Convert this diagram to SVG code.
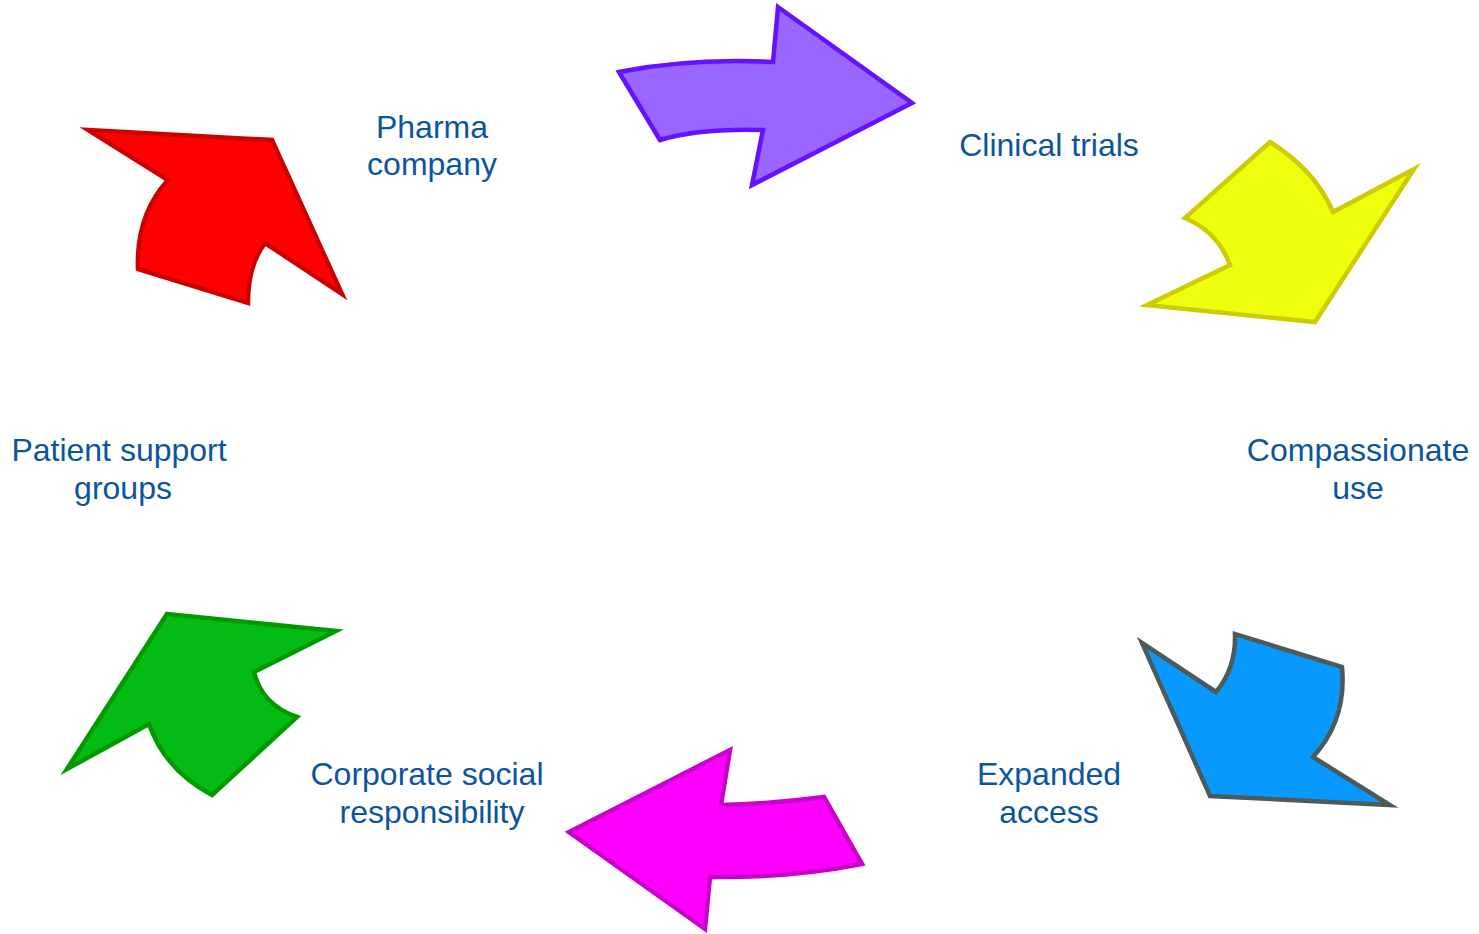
<svg xmlns="http://www.w3.org/2000/svg" width="1479" height="934" viewBox="0 0 1479 934">
<style>
.lbl{font-family:"Liberation Sans",Arial,sans-serif;font-size:32px;fill:#0b55a0;text-anchor:middle}
.arr{stroke-width:4.5;stroke-linejoin:miter;stroke-miterlimit:10}
</style>
<rect width="1479" height="934" fill="#ffffff"/>
<g id="connectors">
<path id="arrow-purple" class="arr" fill="#9966ff" stroke="#6611ff" d="M619,72 Q690,58 773,62 L778,7 L912,103 L752,185 L763,130 Q700,128 660,140 Z"/>
<path id="arrow-yellow" class="arr" fill="#eeff0e" stroke="#cccc00" d="M1270,142 Q1315,170 1333,212 L1414,169 L1315,322 L1147,305 L1230,265 Q1218,232 1185,218 Z"/>
<path id="arrow-blue" class="arr" fill="#0899ff" stroke="#4d5a5a" d="M1142,643 L1216,692 Q1236,668 1235,634 L1342,667 Q1347,720 1313,757 L1390,805 L1210,796 Z"/>
<path id="arrow-magenta" class="arr" fill="#ff00ff" stroke="#cc00cc" d="M730,750 L721,805 Q770,804 824,797 L862,864 Q790,878 710,877 L705,929 L569,832 Z"/>
<path id="arrow-green" class="arr" fill="#04bb14" stroke="#009900" d="M167,614 L336,631 L254,672 Q262,705 297,717 L212,795 Q165,770 149,724 L67,769 Z"/>
<path id="arrow-red" class="arr" fill="#ff0000" stroke="#cc0000" d="M88,130 L272,140 L342,294 L265,243 Q248,265 248,303 L138,269 Q136,215 168,180 Z"/>
</g>
<g id="node-pharma"><text class="lbl" x="432" y="138">Pharma</text><text class="lbl" x="432" y="175">company</text></g>
<g id="node-clinical"><text class="lbl" x="1049" y="156">Clinical trials</text></g>
<g id="node-compassionate"><text class="lbl" x="1358" y="461">Compassionate</text><text class="lbl" x="1358" y="499">use</text></g>
<g id="node-expanded"><text class="lbl" x="1049" y="785">Expanded</text><text class="lbl" x="1049" y="823">access</text></g>
<g id="node-csr"><text class="lbl" x="427" y="785">Corporate social</text><text class="lbl" x="432" y="823">responsibility</text></g>
<g id="node-patient"><text class="lbl" x="119" y="461">Patient support</text><text class="lbl" x="123" y="499">groups</text></g>
</svg>
